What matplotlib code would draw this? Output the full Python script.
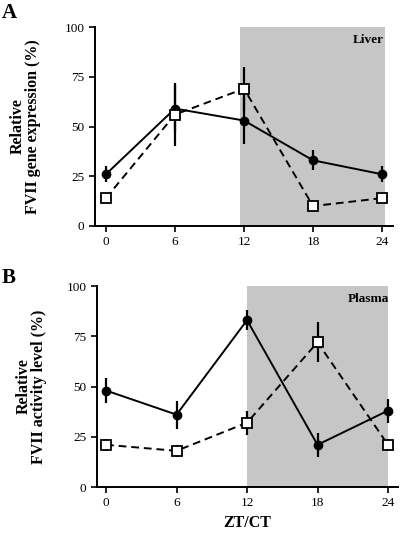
import matplotlib

matplotlib.use("Agg")
import matplotlib.pyplot as plt

plt.rcParams["font.family"] = ["Liberation Serif", "DejaVu Serif"]

# Horas ZT/CT
horas = [0, 6, 12, 18, 24]
ticks_y = [0, 25, 50, 75, 100]

# Panel A: hígado (expresión génica FVII)
higado_lleno = [26, 59, 53, 33, 26]
higado_lleno_err = [4, 12, 12, 5, 4]
higado_vacio = [14, 56, 69, 10, 14]
higado_vacio_err = [2, 16, 11, 2, 2]

# Panel B: plasma (actividad FVII)
plasma_lleno = [48, 36, 83, 21, 38]
plasma_lleno_err = [6, 7, 5, 6, 6]
plasma_vacio = [21, 18, 32, 72, 21]
plasma_vacio_err = [3, 3, 6, 10, 3]


def dibujar_panel(ax, lleno, lleno_err, vacio, vacio_err, sombra, xlim, etiqueta, ylabel, xlab):
    ax.axvspan(sombra[0], sombra[1], color="#c6c6c6", lw=0, zorder=0)
    ax.errorbar(horas, lleno, yerr=lleno_err, fmt="-o", color="black", lw=1.4,
                elinewidth=1.6, capsize=0, ms=6, zorder=3)
    ax.errorbar(horas, vacio, yerr=vacio_err, fmt="--s", color="black", lw=1.4,
                elinewidth=1.6, capsize=0, ms=7, mfc="white", mec="black", mew=1.3,
                dashes=(4, 2.5), zorder=4)
    ax.set_xlim(*xlim)
    ax.set_ylim(0, 100)
    ax.set_xticks(horas)
    ax.set_yticks(ticks_y)
    for lado in ("top", "right"):
        ax.spines[lado].set_visible(False)
    for lado in ("left", "bottom"):
        ax.spines[lado].set_linewidth(1.4)
    ax.tick_params(width=1.2, length=4, labelsize=9.5)
    ax.set_ylabel(ylabel, fontsize=11.5, fontweight="bold", linespacing=1.0)
    ax.yaxis.set_label_coords(xlab, 0.5)
    ax.text(0.97, 0.965, etiqueta, transform=ax.transAxes, ha="right", va="top",
            fontsize=9.5, fontweight="bold")


fig = plt.figure(figsize=(4.0, 5.34), dpi=100)
ax_a = fig.add_axes([0.2375, 0.5768, 0.745, 0.3726])
ax_b = fig.add_axes([0.2425, 0.088, 0.7525, 0.3764])

dibujar_panel(ax_a, higado_lleno, higado_lleno_err, higado_vacio, higado_vacio_err,
              (11.65, 24.25), (-0.95, 24.95), "Liver",
              "Relative\nFVII gene expression (%)", -0.18)
dibujar_panel(ax_b, plasma_lleno, plasma_lleno_err, plasma_vacio, plasma_vacio_err,
              (12, 24), (-0.77, 24.85), "Plasma",
              "Relative\nFVII activity level (%)", -0.165)
ax_b.set_xlabel("ZT/CT", fontsize=11.5, fontweight="bold", labelpad=4)

fig.text(0.005, 0.975, "A", fontsize=15, fontweight="bold", va="center")
fig.text(0.005, 0.48, "B", fontsize=15, fontweight="bold", va="center")

fig.savefig("out.png", dpi=100)
